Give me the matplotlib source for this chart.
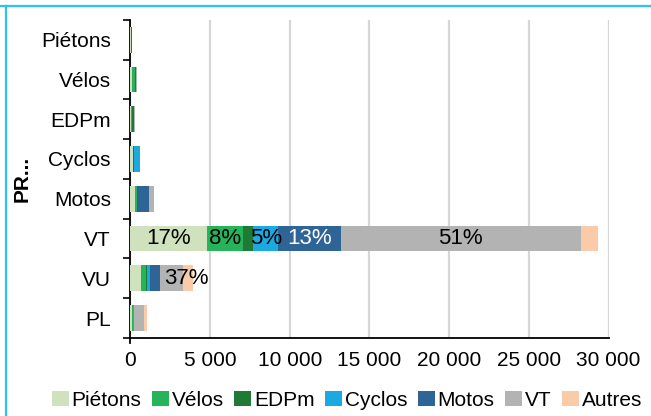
import matplotlib
matplotlib.use("Agg")
import matplotlib.pyplot as plt
import matplotlib.ticker as mticker
from matplotlib.lines import Line2D
from matplotlib.patches import Patch
import numpy as np

# --- Données ---
categories = ["Piétons", "Vélos", "EDPm", "Cyclos", "Motos", "VT", "VU", "PL"]
series_names = ["Piétons", "Vélos", "EDPm", "Cyclos", "Motos", "VT", "Autres"]

pietons = [20, 100, 80, 170, 300, 4840, 670, 120]
velos = [30, 200, 40, 30, 150, 2220, 330, 60]
edpm = [10, 20, 120, 10, 20, 660, 60, 10]
cyclos = [10, 10, 10, 400, 30, 1550, 190, 20]
motos = [40, 30, 10, 20, 700, 3940, 600, 40]
vt = [20, 60, 10, 10, 270, 15030, 1450, 630]
autres = [0, 0, 0, 0, 20, 1090, 620, 190]

# étiquettes de pourcentage affichées : (catégorie, série, texte)
pct_labels = [
    ("VT", "Piétons", "17%"),
    ("VT", "Vélos", "8%"),
    ("VT", "Cyclos", "5%"),
    ("VT", "Motos", "13%"),
    ("VT", "VT", "51%"),
    ("VU", "VT", "37%"),
]

colors = ["#cfe2bd", "#27b35a", "#1e7a34", "#1aa9e0", "#2f6496", "#b3b3b4", "#f9cba8"]

plt.rcParams["font.family"] = ["Liberation Sans", "DejaVu Sans"]

fig = plt.figure(figsize=(6.51, 4.16), dpi=100)
ax = fig.add_axes([0.2, 0.1875, 0.735, 0.765])

data = np.array([pietons, velos, edpm, cyclos, motos, vt, autres], dtype=float)
y = np.arange(len(categories))
left = np.zeros(len(categories))
for name, vals, col in zip(series_names, data, colors):
    ax.barh(y, vals, left=left, height=0.65, color=col, label=name, zorder=3)
    left += vals

# Pourcentages sur les segments (l'étiquette du VU déborde à droite comme dans Excel)
starts = np.vstack([np.zeros(len(categories)), np.cumsum(data, axis=0)[:-1]])
for cat, ser, txt in pct_labels:
    i = categories.index(cat)
    j = series_names.index(ser)
    xc = starts[j, i] + data[j, i] / 2
    col = "white" if ser == "Motos" else "black"
    dx = 11 if cat == "VU" else 0
    ax.annotate(txt, (xc, i), xytext=(dx, 0), textcoords="offset points",
                ha="center", va="center", fontsize=16, color=col, zorder=4)

ax.set_ylim(len(categories) - 0.5, -0.5)
ax.set_xlim(0, 30000)
ax.set_yticks(y)
ax.set_yticklabels(categories, fontsize=15)
ax.set_yticks(np.arange(-0.5, len(categories)), minor=True)
ax.tick_params(axis="y", which="major", length=0, pad=14)
ax.tick_params(axis="y", which="minor", length=5, width=1.2, direction="out")

ax.set_xticks(np.arange(0, 30001, 5000))
ax.xaxis.set_major_formatter(mticker.FuncFormatter(lambda v, p: f"{int(v):,}".replace(",", " ")))
ax.tick_params(axis="x", length=0, labelsize=15, pad=9)
ax.xaxis.grid(True, color="#d6d6d6", linewidth=1.6, zorder=0)
ax.set_axisbelow(True)

for s in ["top", "right"]:
    ax.spines[s].set_visible(False)
ax.spines["left"].set_linewidth(1.3)
ax.spines["bottom"].set_linewidth(1.3)
ax.plot([0, 0], [len(categories) - 0.5, len(categories) - 0.38], color="black",
        linewidth=1.3, clip_on=False, zorder=5)

ax.set_ylabel("PR...", fontsize=15, fontweight="bold")
ax.yaxis.set_label_coords(-0.205, 0.5)

handles = [Patch(facecolor=c, label=n) for n, c in zip(series_names, colors)]
fig.legend(handles=handles, loc="lower center", ncol=7, frameon=False, fontsize=15,
           bbox_to_anchor=(0.533, -0.03), handlelength=0.8, handleheight=0.8,
           handletextpad=0.15, columnspacing=0.5)

# Cadre bleu (haut et gauche)
fig.add_artist(Line2D([0.0, 1.0], [0.9855, 0.9855], color="#2cc3ef", linewidth=1.6,
                      transform=fig.transFigure))
fig.add_artist(Line2D([0.0085, 0.0085], [0.0, 0.9855], color="#2cc3ef", linewidth=1.6,
                      transform=fig.transFigure))

fig.savefig("out.png", dpi=100)
plt.close(fig)
